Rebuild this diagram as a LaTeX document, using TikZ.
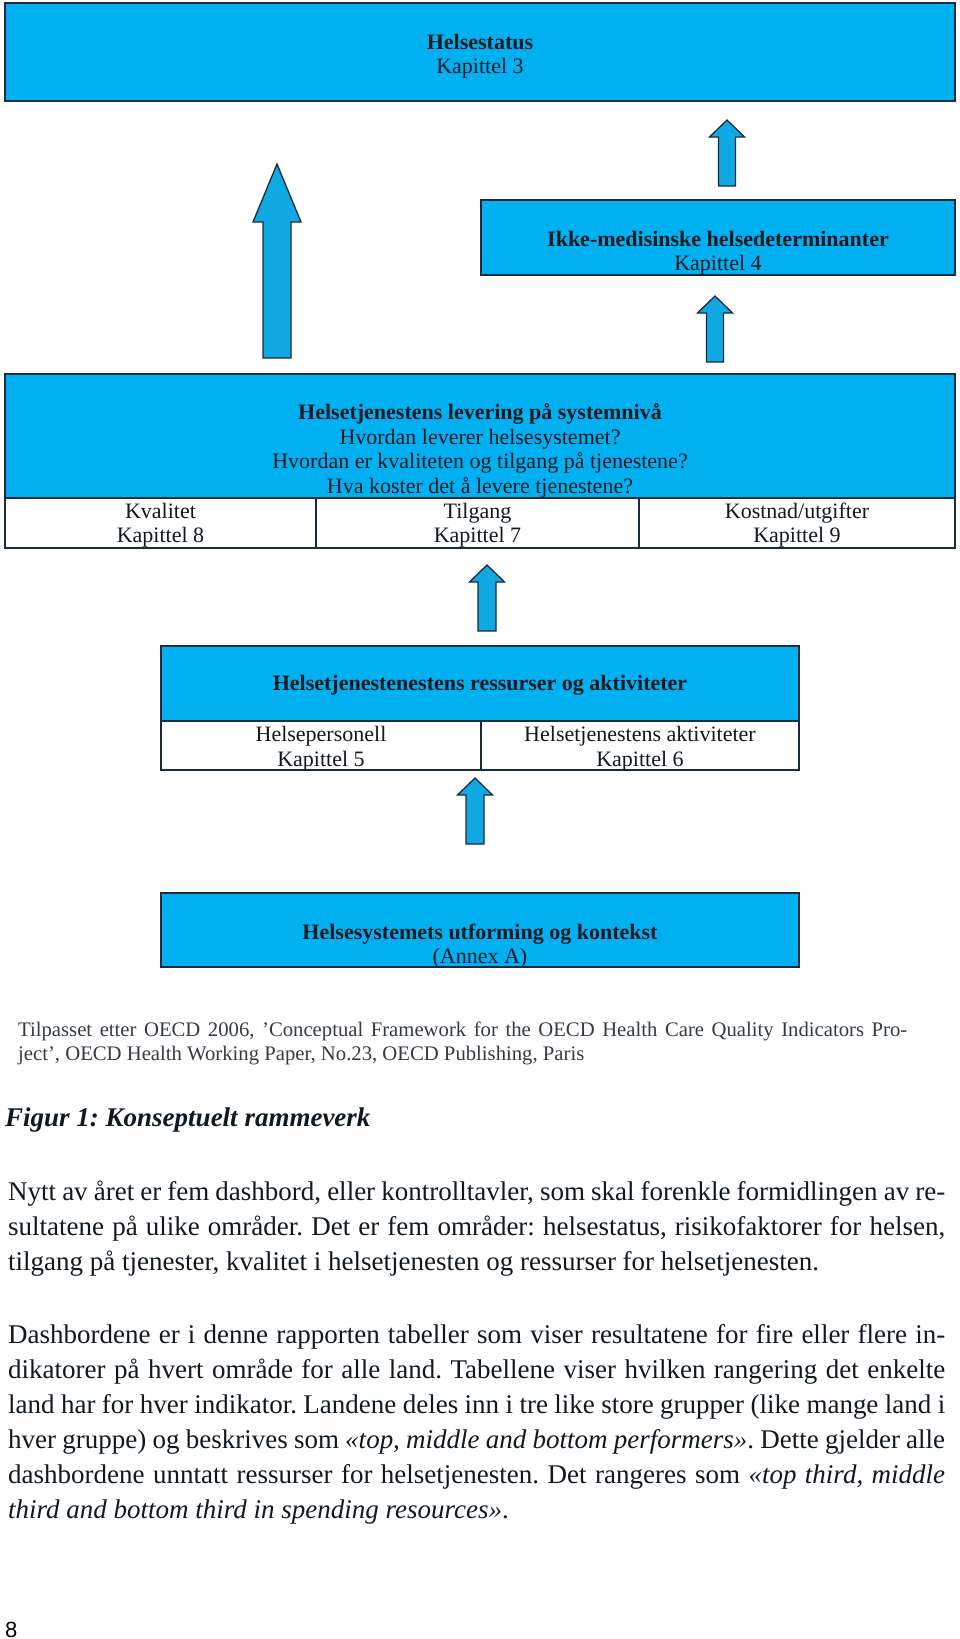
\documentclass[tikz,border=0pt]{standalone}
\usepackage{fontspec}
\setmainfont{Liberation Serif}
\newfontfamily\pagefont{Liberation Sans}
\frenchspacing

\definecolor{boxblue}{HTML}{00B0F0}
\definecolor{arrowblue}{HTML}{10A9E3}
\definecolor{edge}{HTML}{1B2A3C}
\definecolor{ink}{HTML}{101820}

\tikzset{
  bluebox/.style={draw=edge, line width=1.3pt, fill=boxblue, inner sep=0pt},
  cellbox/.style={draw=edge, line width=1.1pt, fill=white, inner sep=0pt},
  boxtext/.style={align=center, text=ink, inner sep=0pt, font=\fontsize{22}{24.5}\selectfont},
  arrowshape/.style={draw=edge, line width=1.3pt, fill=arrowblue, line join=miter},
  bodytext/.style={anchor=base west, inner sep=0pt, text=ink, font=\fontsize{27}{35}\selectfont},
  notetext/.style={anchor=base west, inner sep=0pt, text=ink!85, font=\fontsize{20.7}{24}\selectfont}
}

% x, tip, head base, bottom, half shaft, half head
\newcommand\blockarrow[6]{%
  \draw[arrowshape] (#1-#5,#4) -- (#1-#5,#3) -- (#1-#6,#3) -- (#1,#2)
    -- (#1+#6,#3) -- (#1+#5,#3) -- (#1+#5,#4) -- cycle;}

\begin{document}
\begin{tikzpicture}[x=1pt, y=-1pt]
\useasboundingbox (0,0) rectangle (960,1639);

% boxes
\node[bluebox, minimum width=950pt, minimum height=98pt] (status) at (480,52) {};
\node[bluebox, minimum width=474pt, minimum height=75pt] (ikke) at (718,237.5) {};
\node[bluebox, minimum width=950pt, minimum height=124pt] (lev) at (480,436) {};
\node[cellbox, minimum width=311pt, minimum height=50pt] (kval) at (160.5,523) {};
\node[cellbox, minimum width=323pt, minimum height=50pt] (tilg) at (477.5,523) {};
\node[cellbox, minimum width=316pt, minimum height=50pt] (kost) at (797,523) {};
\node[bluebox, minimum width=638pt, minimum height=75pt] (ress) at (480,683.5) {};
\node[cellbox, minimum width=320pt, minimum height=49pt] (pers) at (321,745.5) {};
\node[cellbox, minimum width=318pt, minimum height=49pt] (akt) at (640,745.5) {};
\node[bluebox, minimum width=638pt, minimum height=74pt] (utf) at (480,930) {};

% box texts
\node[boxtext] (statustxt) at (480,56) {\textbf{Helsestatus}\\Kapittel 3};
\node[boxtext] (ikketxt) at (718,253) {\textbf{Ikke-medisinske helsedeterminanter}\\Kapittel 4};
\node[boxtext] (levtxt) at (480,451) {\textbf{Helsetjenestens levering på systemnivå}\\
  Hvordan leverer helsesystemet?\\Hvordan er kvaliteten og tilgang på tjenestene?\\
  Hva koster det å levere tjenestene?};
\node[boxtext] (kvaltxt) at ([yshift=-2pt]kval.center) {Kvalitet\\Kapittel 8};
\node[boxtext] (tilgtxt) at ([yshift=-2pt]tilg.center) {Tilgang\\Kapittel 7};
\node[boxtext] (kosttxt) at ([yshift=-2pt]kost.center) {Kostnad/utgifter\\Kapittel 9};
\node[boxtext] (resstxt) at (480,685) {\textbf{Helsetjenestenestens ressurser og aktiviteter}};
\node[boxtext] (perstxt) at ([yshift=-3pt]pers.center) {Helsepersonell\\Kapittel 5};
\node[boxtext] (akttxt) at ([yshift=-3pt]akt.center) {Helsetjenestens aktiviteter\\Kapittel 6};
\node[boxtext] (utftxt) at (480,946) {\textbf{Helsesystemets utforming og kontekst}\\(Annex A)};

% arrows
\blockarrow{277}{164}{222}{358}{14}{24}
\blockarrow{727}{120}{137}{186}{8.5}{17.5}
\blockarrow{715}{296}{313}{362}{8.5}{17.5}
\blockarrow{487}{565}{582}{631}{9}{17.5}
\blockarrow{475}{778}{795}{844}{9}{17.5}

% text below
\node[notetext] (note1) at (18,1036) {\makebox[889pt][s]{Tilpasset etter OECD 2006, ’Conceptual Framework for the OECD Health Care Quality Indicators Pro-}};
\node[notetext] (note2) at (18,1060) {ject’, OECD Health Working Paper, No.23, OECD Publishing, Paris};
\node[bodytext] (figur) at (5,1126) {\textbf{\textit{Figur 1: Konseptuelt rammeverk}}};

\node[bodytext] (p1a) at (8,1200) {\makebox[937pt][s]{Nytt av året er fem dashbord, eller kontrolltavler, som skal forenkle formidlingen av re-}};
\node[bodytext] (p1b) at (8,1235) {\makebox[937pt][s]{sultatene på ulike områder. Det er fem områder: helsestatus, risikofaktorer for helsen,}};
\node[bodytext] (p1c) at (8,1270) {tilgang på tjenester, kvalitet i helsetjenesten og ressurser for helsetjenesten.};

\node[bodytext] (p2a) at (8,1343) {\makebox[937pt][s]{Dashbordene er i denne rapporten tabeller som viser resultatene for fire eller flere in-}};
\node[bodytext] (p2b) at (8,1378) {\makebox[937pt][s]{dikatorer på hvert område for alle land. Tabellene viser hvilken rangering det enkelte}};
\node[bodytext] (p2c) at (8,1413) {\makebox[937pt][s]{land har for hver indikator. Landene deles inn i tre like store grupper (like mange land i}};
\node[bodytext] (p2d) at (8,1448) {\makebox[937pt][s]{hver gruppe) og beskrives som \textit{«top, middle and bottom performers»}. Dette gjelder alle}};
\node[bodytext] (p2e) at (8,1483) {\makebox[937pt][s]{dashbordene unntatt ressurser for helsetjenesten. Det rangeres som \textit{«top third, middle}}};
\node[bodytext] (p2f) at (8,1518) {\textit{third and bottom third in spending resources»}.};

\node[anchor=base west, inner sep=0pt, font=\pagefont\fontsize{22}{22}\selectfont] (pagenr) at (5,1637) {8};
\end{tikzpicture}
\end{document}
